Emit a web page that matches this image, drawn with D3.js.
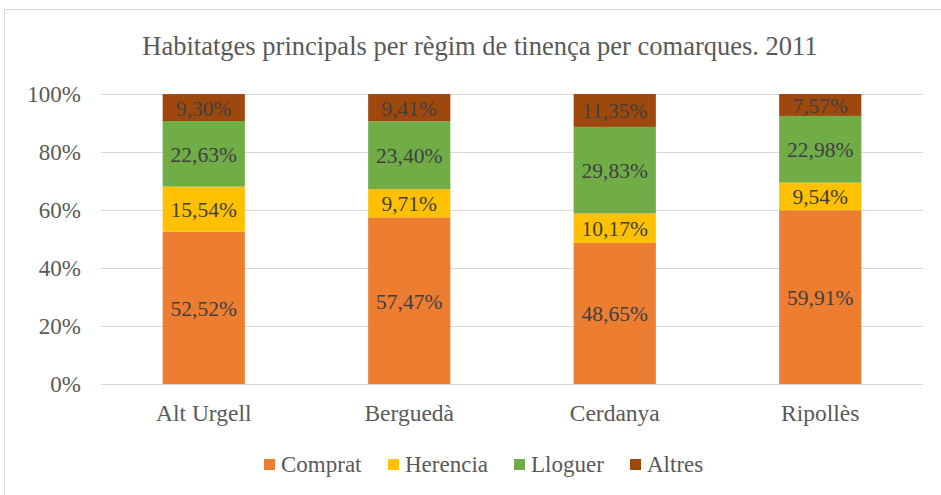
<!DOCTYPE html>
<html>
<head>
<meta charset="utf-8">
<script src="https://cdn.jsdelivr.net/npm/d3@7"></script>
<style>
  body { margin: 0; background: #fff; }
</style>
</head>
<body>
<div id="chart"></div>
<script>
// data
let comarques = ["Alt Urgell", "Berguedà", "Cerdanya", "Ripollès"];
let regims = ["Comprat", "Herencia", "Lloguer", "Altres"];
let comprat = [52.52, 57.47, 48.65, 59.91];
let herencia = [15.54, 9.71, 10.17, 9.54];
let lloguer = [22.63, 23.40, 29.83, 22.98];
let altres = [9.30, 9.41, 11.35, 7.57];
let yTicks = [0, 20, 40, 60, 80, 100];
let colors = ["#ED7D31", "#FFC000", "#70AD47", "#9E480E"];

let width = 941, height = 495;
let margin = {top: 94, right: 18, bottom: 111, left: 101};
let serif = "'Liberation Serif', 'Times New Roman', serif";

let svg = d3.select("#chart")
            .append("svg")
            .attr("width", width)
            .attr("height", height)
            .attr("font-family", serif);

// chart border
svg.append("rect")
   .attr("x", 4.5).attr("y", 9.5)
   .attr("width", width + 10).attr("height", height + 10)
   .attr("fill", "none")
   .attr("stroke", "#d9d9d9");

svg.append("text")
   .attr("x", 480).attr("y", 55)
   .attr("text-anchor", "middle")
   .attr("font-size", 26.5)
   .attr("fill", "#595959")
   .text("Habitatges principals per règim de tinença per comarques. 2011");

let rows = comarques.map((c, i) => ({
    comarca: c,
    Comprat: comprat[i], Herencia: herencia[i], Lloguer: lloguer[i], Altres: altres[i]
}));

let x = d3.scaleBand()
          .domain(comarques)
          .range([margin.left, width - margin.right])
          .paddingInner(0.6)
          .paddingOuter(0.3);

let y = d3.scaleLinear()
          .domain([0, 100])
          .range([height - margin.bottom, margin.top]);

// gridlines
svg.append("g")
   .selectAll("line")
   .data(yTicks)
   .join("line")
   .attr("x1", margin.left).attr("x2", width - margin.right)
   .attr("y1", d => Math.round(y(d)) + 0.5)
   .attr("y2", d => Math.round(y(d)) + 0.5)
   .attr("stroke", "#d9d9d9")
   .attr("stroke-width", 1);

svg.append("g")
   .selectAll("text")
   .data(yTicks)
   .join("text")
   .attr("x", 81)
   .attr("y", d => y(d) + 7.5)
   .attr("text-anchor", "end")
   .attr("font-size", 23)
   .attr("fill", "#595959")
   .text(d => d + "%");

let stack = d3.stack().keys(regims)(rows);

let layers = svg.append("g")
   .selectAll("g")
   .data(stack)
   .join("g")
   .attr("fill", (d, i) => colors[i]);

layers.selectAll("rect")
   .data(d => d)
   .join("rect")
   .attr("x", d => x(d.data.comarca))
   .attr("width", x.bandwidth())
   .attr("y", d => y(d[1]))
   .attr("height", d => y(d[0]) - y(d[1]));

layers.selectAll("text")
   .data(d => d.map(v => Object.assign(v, {key: d.key})))
   .join("text")
   .attr("x", d => x(d.data.comarca) + x.bandwidth() / 2)
   .attr("y", d => (y(d[0]) + y(d[1])) / 2 + 8)
   .attr("text-anchor", "middle")
   .attr("font-size", 21.5)
   .attr("fill", "#404040")
   .text(d => d3.format(".2f")(d.data[d.key]).replace(".", ",") + "%");

svg.append("g")
   .selectAll("text")
   .data(comarques)
   .join("text")
   .attr("x", d => x(d) + x.bandwidth() / 2)
   .attr("y", 421)
   .attr("text-anchor", "middle")
   .attr("font-size", 23.5)
   .attr("fill", "#595959")
   .text(d => d);

// legend
let legendX = [264, 388, 514, 630];
let legend = svg.append("g")
   .selectAll("g")
   .data(regims)
   .join("g")
   .attr("transform", (d, i) => "translate(" + legendX[i] + ",459)");

legend.append("rect")
   .attr("width", 11).attr("height", 11)
   .attr("fill", (d, i) => colors[i]);

legend.append("text")
   .attr("x", 17).attr("y", 12.5)
   .attr("font-size", 23)
   .attr("fill", "#595959")
   .text(d => d);
</script>
</body>
</html>
